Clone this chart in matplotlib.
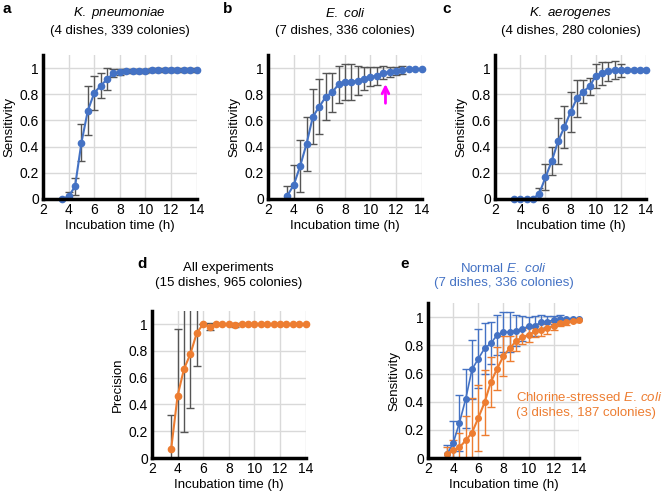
import numpy as np
import matplotlib
matplotlib.use('Agg')
import matplotlib.pyplot as plt

plt.rcParams['font.family'] = ['Liberation Sans', 'DejaVu Sans']
plt.rcParams['mathtext.fontset'] = 'custom'
plt.rcParams['mathtext.it'] = 'Liberation Sans:italic'
plt.rcParams['mathtext.rm'] = 'Liberation Sans'

BLUE = '#4472C4'
ORANGE = '#ED7D31'
GRAY = '#555555'

# incubation times (h)
t = np.arange(3.5, 14.01, 0.5)

# a: K. pneumoniae
kp_mean = [0.0, 0.02, 0.095, 0.43, 0.675, 0.81, 0.865, 0.915, 0.96, 0.97, 0.98,
           0.98, 0.98, 0.98, 0.985, 0.985, 0.985, 0.985, 0.985, 0.985, 0.985, 0.985]
kp_err = [0.0, 0.03, 0.065, 0.14, 0.19, 0.13, 0.095, 0.085, 0.03, 0.02, 0.015,
          0.015, 0.015, 0.015, 0.015, 0.015, 0.015, 0.015, 0.015, 0.015, 0.015, 0.015]

# b: E. coli
ec_mean = [0.025, 0.105, 0.25, 0.42, 0.63, 0.705, 0.78, 0.815, 0.875, 0.895, 0.895,
           0.905, 0.92, 0.935, 0.94, 0.965, 0.97, 0.98, 0.985, 0.99, 0.99, 0.99]
ec_err = [0.07, 0.155, 0.2, 0.21, 0.21, 0.21, 0.18, 0.15, 0.14, 0.14, 0.14,
          0.11, 0.09, 0.07, 0.07, 0.05, 0.04, 0.03, 0.03, 0.0, 0.0, 0.0]

# c: K. aerogenes
ka_mean = [0.0, 0.0, 0.0, 0.0, 0.04, 0.165, 0.29, 0.44, 0.55, 0.665, 0.77,
           0.82, 0.86, 0.94, 0.96, 0.975, 0.985, 0.985, 0.985, 0.985, 0.985, 0.985]
ka_err = [0.0, 0.0, 0.0, 0.0, 0.045, 0.1, 0.11, 0.175, 0.16, 0.15, 0.14,
          0.09, 0.065, 0.09, 0.09, 0.07, 0.07, 0.05, 0.01, 0.01, 0.01, 0.01]

# d: precision, all experiments
pr_mean = [0.07, 0.465, 0.665, 0.777, 0.934, 1.0, 0.98, 1.0, 1.0, 1.0, 0.99,
           1.0, 1.0, 1.0, 1.0, 1.0, 1.0, 1.0, 1.0, 1.0, 1.0, 1.0]
pr_err = [0.25, 0.5, 0.47, 0.4, 0.25, 0.0, 0.025, 0.0, 0.0, 0.0, 0.015,
          0.0, 0.0, 0.0, 0.0, 0.0, 0.0, 0.0, 0.0, 0.0, 0.0, 0.0]

# e: chlorine-stressed E. coli
cs_mean = [0.025, 0.055, 0.075, 0.125, 0.18, 0.285, 0.395, 0.54, 0.635, 0.725, 0.78,
           0.83, 0.86, 0.875, 0.9, 0.91, 0.925, 0.94, 0.96, 0.965, 0.975, 0.98]
cs_err = [0.055, 0.075, 0.1, 0.175, 0.25, 0.235, 0.23, 0.18, 0.155, 0.14, 0.09,
          0.07, 0.05, 0.05, 0.04, 0.045, 0.04, 0.03, 0.02, 0.02, 0.01, 0.01]

FS = 9.5

fig = plt.figure(figsize=(6.62, 4.96), dpi=100)


def setup(ax, ylabel):
    ax.set_xlim(2, 14)
    ax.set_ylim(0, 1.1)
    ax.set_xticks(range(2, 15, 2))
    ax.set_yticks([0, 0.2, 0.4, 0.6, 0.8, 1])
    ax.set_yticklabels(['0', '0.2', '0.4', '0.6', '0.8', '1'])
    ax.grid(True, color='#d9d9d9', lw=1)
    ax.set_axisbelow(True)
    for s in ['top', 'right']:
        ax.spines[s].set_visible(False)
    for s in ['left', 'bottom']:
        ax.spines[s].set_linewidth(2.5)
        ax.spines[s].set_zorder(5)
    ax.tick_params(length=0, labelsize=FS + 0.5, pad=3)
    ax.set_xlabel('Incubation time (h)', fontsize=FS, labelpad=2)
    ax.set_ylabel(ylabel, fontsize=FS, labelpad=3)


def series(ax, y, err, color, ecolor, lw=1.5, ms=4.5, elw=1.0):
    ax.errorbar(t, y, yerr=err, fmt='none', ecolor=ecolor, elinewidth=elw,
                capsize=3, capthick=elw, zorder=2)
    ax.plot(t, y, '-o', color=color, lw=lw, ms=ms, clip_on=False, zorder=3)


W = 0.232
H = 0.29
axa = fig.add_axes([0.065, 0.599, W, H])
axb = fig.add_axes([0.405, 0.599, W, H])
axc = fig.add_axes([0.748, 0.599, 0.228, H])
axd = fig.add_axes([0.2296, 0.0766, W, 0.297])
axe = fig.add_axes([0.6465, 0.0766, 0.228, 0.312])

setup(axa, 'Sensitivity')
setup(axb, 'Sensitivity')
setup(axc, 'Sensitivity')
setup(axd, 'Precision')
setup(axe, 'Sensitivity')

series(axa, kp_mean, kp_err, BLUE, GRAY)
series(axb, ec_mean, ec_err, BLUE, GRAY)
series(axc, ka_mean, ka_err, BLUE, GRAY)
series(axd, pr_mean, pr_err, ORANGE, GRAY)
series(axe, ec_mean, ec_err, BLUE, BLUE, lw=1.2, ms=4)
series(axe, cs_mean, cs_err, ORANGE, ORANGE, lw=1.5, ms=4)

# arrow in b
axb.annotate('', xy=(11.17, 0.9), xytext=(11.17, 0.71),
             arrowprops=dict(arrowstyle='->', color='#FF00FF', lw=2,
                             mutation_scale=12), zorder=6)


def title2(ax, l1, l2, color='black'):
    ax.text(0.5, 1.29, l1, transform=ax.transAxes, ha='center', va='center',
            fontsize=FS, color=color)
    ax.text(0.5, 1.17, l2, transform=ax.transAxes, ha='center', va='center',
            fontsize=FS, color=color)


title2(axa, r'$\it{K.\ pneumoniae}$', '(4 dishes, 339 colonies)')
title2(axb, r'$\it{E.\ coli}$', '(7 dishes, 336 colonies)')
title2(axc, r'$\it{K.\ aerogenes}$', '(4 dishes, 280 colonies)')
axd.text(0.5, 1.29, 'All experiments', transform=axd.transAxes, ha='center',
         va='center', fontsize=FS)
axd.text(0.5, 1.185, '(15 dishes, 965 colonies)', transform=axd.transAxes,
         ha='center', va='center', fontsize=FS)
axe.text(0.5, 1.226, r'Normal $\it{E.\ coli}$', transform=axe.transAxes,
         ha='center', va='center', fontsize=FS, color=BLUE)
axe.text(0.5, 1.13, '(7 dishes, 336 colonies)', transform=axe.transAxes,
         ha='center', va='center', fontsize=FS, color=BLUE)
axe.text(0.585, 0.394, r'Chlorine-stressed $\it{E.\,coli}$', transform=axe.transAxes,
         ha='left', va='center', fontsize=FS, color=ORANGE)
axe.text(0.585, 0.29, '(3 dishes, 187 colonies)', transform=axe.transAxes,
         ha='left', va='center', fontsize=FS, color=ORANGE)

for lab, x, y in [('a', 0.004, 0.995), ('b', 0.337, 0.995), ('c', 0.668, 0.995),
                  ('d', 0.208, 0.482), ('e', 0.605, 0.482)]:
    fig.text(x, y, lab, fontsize=11, fontweight='bold', va='top', ha='left')

fig.savefig('out.png', dpi=100)
